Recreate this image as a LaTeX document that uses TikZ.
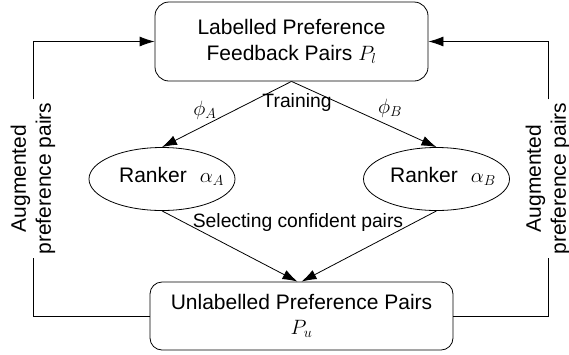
\documentclass[tikz,border=0pt]{standalone}
\usepackage{fontspec}
\setmainfont{Liberation Sans}
\usetikzlibrary{arrows.meta,shapes.geometric,calc}
\begin{document}
\begin{tikzpicture}[x=1pt,y=-1pt,
  box/.style={draw,line width=0.8pt,align=center,inner sep=0pt,font=\fontsize{21}{25.5}\selectfont},
  ell/.style={draw,ellipse,line width=0.8pt,minimum width=146pt,minimum height=63pt,inner sep=0pt},
  lbl/.style={font=\fontsize{21}{25.5}\selectfont},
  small/.style={font=\fontsize{19.3}{23}\selectfont},
  side/.style={rotate=90,align=center,inner sep=3pt,font=\fontsize{21}{25}\selectfont},
  arr/.style={-{Latex[length=15pt,width=10pt]},line width=0.8pt},
  ln/.style={line width=0.8pt}]
\useasboundingbox (0,0) rectangle (569,354);
\node[box,rounded corners=14pt,minimum width=273pt,minimum height=79pt] (Pl) at (291.5,41.5) {Labelled Preference\\ Feedback Pairs $P_l$};
\node[box,rounded corners=12pt,minimum width=303pt,minimum height=68pt] (Pu) at (301.5,316) {Unlabelled Preference Pairs\\ $P_u$};
\node[ell] (A) at (162,179) {};
\node[ell] (B) at (436.5,179) {};
\node[lbl,anchor=base] (tA) at (171.5,182) {Ranker\hspace{13pt}$\alpha_A$};
\node[lbl,anchor=base] (tB) at (443,182) {Ranker\hspace{13pt}$\alpha_B$};
\node[side] (lL) at (33,178.5) {Augmented\\preference pairs};
\node[side] (lR) at (548,178.5) {Augmented\\preference pairs};
\draw[ln] (Pu.west) -| (lL.west);
\draw[arr] (lL.east) |- (Pl.west);
\draw[ln] (Pu.east) -| (lR.west);
\draw[arr] (lR.east) |- (Pl.east);
\draw[arr] (Pl.south) -- (A.north);
\draw[arr] (Pl.south) -- (B.north);
\draw[arr] (A.south) -- ($(Pu.north)+(-4,0)$);
\draw[arr] (B.south) -- (Pu.north);
\node[small,anchor=base] (tr) at (297,107) {Training};
\node[small,anchor=base] (sel) at (298,227) {Selecting confident pairs};
\node[small] (pA) at (205,110) {$\phi_A$};
\node[small] (pB) at (390,108) {$\phi_B$};
\end{tikzpicture}
\end{document}
